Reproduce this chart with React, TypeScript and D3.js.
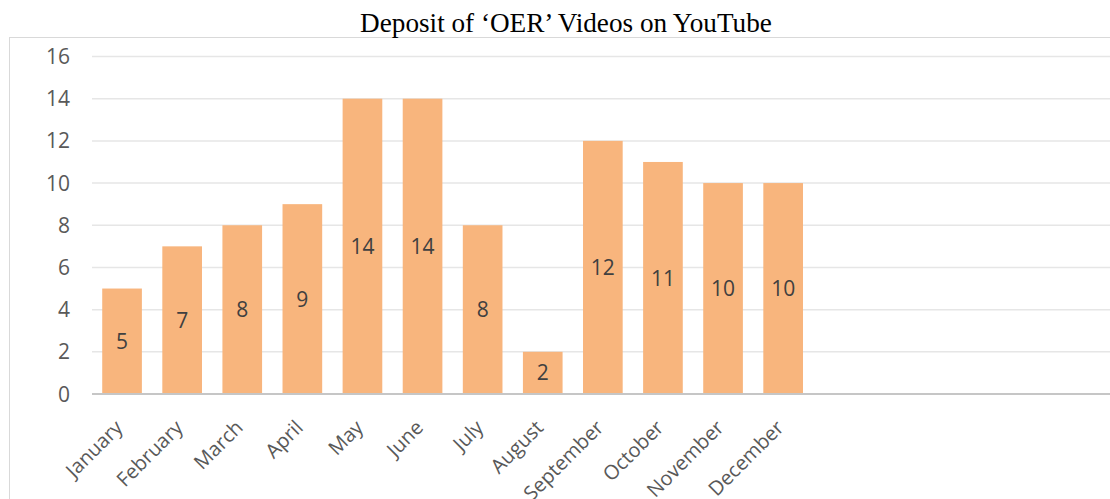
import * as d3 from "d3";
import { useEffect, useRef } from "react";

const months = ["January", "February", "March", "April", "May", "June", "July", "August", "September", "October", "November", "December"];
const videos = [5, 7, 8, 9, 14, 14, 8, 2, 12, 11, 10, 10];
const yTicks = [0, 2, 4, 6, 8, 10, 12, 14, 16];
const title = "Deposit of \u2018OER\u2019 Videos on YouTube";

const App = () => {
  const svgRef = useRef<SVGSVGElement>(null);

  useEffect(() => {
    const svg = d3.select(svgRef.current);
    svg.selectAll("*").remove();

    const width = 1110;
    const height = 499;
    const font = "'Open Sans', sans-serif";

    svg.attr("width", width).attr("height", height);

    // cadre du graphique
    svg.append("rect")
      .attr("x", 9.5).attr("y", 37.5)
      .attr("width", 1200).attr("height", 500)
      .attr("fill", "none").attr("stroke", "#d9d9d9").attr("stroke-width", 1);

    svg.append("text")
      .attr("x", 566).attr("y", 32)
      .attr("text-anchor", "middle")
      .attr("font-family", "'Liberation Serif', 'Times New Roman', serif")
      .attr("font-size", 27.2)
      .attr("fill", "#000")
      .text(title);

    const x = d3.scaleBand().domain(months).range([92, 92 + 12 * 60.1]).paddingInner(0.34).paddingOuter(0.17);
    const y = d3.scaleLinear().domain([0, 16]).range([394, 56.5]);

    // lignes de grille
    svg.append("g")
      .selectAll("line")
      .data(yTicks.filter((d) => d > 0))
      .enter()
      .append("line")
      .attr("x1", 92).attr("x2", width)
      .attr("y1", (d) => y(d)).attr("y2", (d) => y(d))
      .attr("stroke", "#e6e6e6").attr("stroke-width", 1.5);

    svg.append("g")
      .selectAll("text")
      .data(yTicks)
      .enter()
      .append("text")
      .attr("x", 70)
      .attr("y", (d) => y(d))
      .attr("dy", "0.36em")
      .attr("text-anchor", "end")
      .attr("font-family", font)
      .attr("font-size", 21)
      .attr("fill", "#595959")
      .text((d) => d);

    svg.append("g")
      .selectAll("rect")
      .data(videos)
      .enter()
      .append("rect")
      .attr("x", (d, i) => x(months[i])!)
      .attr("y", (d) => y(d))
      .attr("width", x.bandwidth())
      .attr("height", (d) => y(0) - y(d))
      .attr("fill", "#f8b57d");

    svg.append("line")
      .attr("x1", 92).attr("x2", width)
      .attr("y1", y(0)).attr("y2", y(0))
      .attr("stroke", "#c6c6c6").attr("stroke-width", 2);

    // étiquettes de données
    svg.append("g")
      .selectAll("text")
      .data(videos)
      .enter()
      .append("text")
      .attr("x", (d, i) => x(months[i])! + x.bandwidth() / 2)
      .attr("y", (d) => (y(d) + y(0)) / 2)
      .attr("dy", "0.36em")
      .attr("text-anchor", "middle")
      .attr("font-family", font)
      .attr("font-size", 21)
      .attr("fill", "#404040")
      .text((d) => d);

    // mois
    svg.append("g")
      .selectAll("text")
      .data(months)
      .enter()
      .append("text")
      .attr("transform", (d) => `translate(${x(d)! + x.bandwidth() / 2 - 8},${419}) rotate(-45)`)
      .attr("text-anchor", "end")
      .attr("dy", "0.7em")
      .attr("font-family", font)
      .attr("font-size", 20)
      .attr("fill", "#595959")
      .text((d) => d);
  }, []);

  return <svg ref={svgRef} style={{ position: "absolute", left: 0, top: 0 }}></svg>;
};

export default App;
